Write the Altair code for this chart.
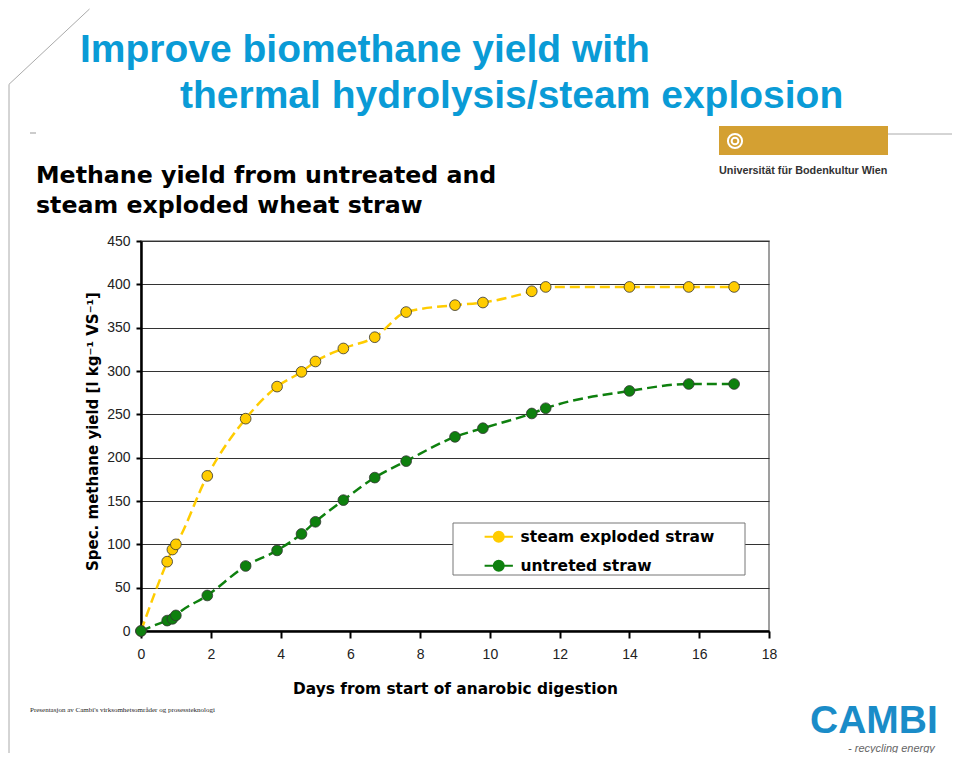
import altair as alt
import pandas as pd

# ---- data ----
days = [0, 0.75, 0.9, 1.0, 1.9, 3.0, 3.9, 4.6, 5.0, 5.8, 6.7, 7.6, 9.0, 9.8, 11.2, 11.6, 14.0, 15.7, 17.0]
steam = [0, 80, 94, 100, 179, 245, 282, 299, 311, 326, 339, 368, 376, 379, 392, 397, 397, 397, 397]
untreated = [0, 12, 14, 18, 41, 75, 93, 112, 126, 151, 177, 196, 224, 234, 251, 257, 277, 285, 285]
series_names = ["steam exploded straw", "untreted straw"]
x_ticks = list(range(0, 19, 2))
y_ticks = list(range(0, 451, 50))

rows = []
for d, s in zip(days, steam):
    rows.append({"day": d, "yield": s, "series": series_names[0]})
for d, u in zip(days, untreated):
    rows.append({"day": d, "yield": u, "series": series_names[1]})
df = pd.DataFrame(rows)

one = pd.DataFrame({"k": [0]})

W, H = 628, 390
BLUE = "#0A9BD6"

color_scale = alt.Scale(domain=series_names, range=["#FFCC00", "#0E800E"])
legend_symbol = "M-2.4,0L-0.85,0M0.85,0L2.4,0M0.85,0A0.85,0.85,0,1,1,-0.85,0A0.85,0.85,0,1,1,0.85,0Z"

base = alt.Chart(df).encode(
    x=alt.X("day:Q", scale=alt.Scale(domain=[0, 18], nice=False),
            axis=alt.Axis(values=x_ticks, grid=False, domainColor="black", domainWidth=2.5,
                          tickColor="black", tickWidth=2, tickSize=7, labelFlush=False,
                          labelFont="Liberation Sans", labelFontSize=14, labelColor="#222",
                          labelPadding=9,
                          title="Days from start of anarobic digestion",
                          titleFont="DejaVu Sans", titleFontWeight="bold", titleFontSize=15.4,
                          titleColor="black", titleX=314, titleY=62,
                          titleAlign="center", titleBaseline="alphabetic")),
    y=alt.Y("yield:Q", scale=alt.Scale(domain=[0, 450], nice=False),
            axis=alt.Axis(values=y_ticks, grid=True, gridColor="#333", gridWidth=1,
                          domainColor="black", domainWidth=2.5, labelFlush=False,
                          tickColor="black", tickWidth=2, tickSize=5,
                          labelFont="Liberation Sans", labelFontSize=14, labelColor="#222",
                          labelPadding=6,
                          title="Spec. methane yield [l kg\u207b\u00b9 VS\u207b\u00b9]",
                          titleFont="DejaVu Sans", titleFontWeight="bold", titleFontSize=15,
                          titleColor="black", titleX=-49, titleY=190, titleAngle=270,
                          titleAlign="center", titleBaseline="middle")),
    color=alt.Color("series:N", scale=color_scale,
                    legend=alt.Legend(orient="none", legendX=350, legendY=288, title=None,
                                      labelFont="DejaVu Sans", labelFontWeight="bold",
                                      labelFontSize=15.5, labelColor="black", labelLimit=400,
                                      symbolType=legend_symbol, symbolSize=139,
                                      symbolStrokeWidth=2, labelOffset=14, rowPadding=10,
                                      padding=0)),
)

lines = base.mark_line(interpolate="monotone", strokeDash=[10, 5], strokeWidth=2.5)
points = base.mark_point(filled=True, size=115, stroke="#333", strokeWidth=0.8, opacity=1)


def txt(s, x, y, size, color="black", font="Liberation Sans", weight="bold", style="normal", align="left"):
    return alt.Chart(one).mark_text(align=align, baseline="alphabetic", font=font, fontSize=size,
                                    fontWeight=weight, fontStyle=style, color=color).encode(
        x=alt.value(x), y=alt.value(y), text=alt.value(s))


def rule(x1, y1, x2, y2, color="#999", width=1):
    return alt.Chart(one).mark_rule(color=color, strokeWidth=width).encode(
        x=alt.value(x1), y=alt.value(y1), x2=alt.value(x2), y2=alt.value(y2))


legend_box = alt.Chart(one).mark_rect(fill="white", stroke="#777", strokeWidth=1).encode(
    x=alt.value(312), x2=alt.value(604), y=alt.value(282), y2=alt.value(334))

gold = alt.Chart(one).mark_rect(fill="#D4A032").encode(
    x=alt.value(578), x2=alt.value(747), y=alt.value(-115), y2=alt.value(-86))
ring1 = alt.Chart(one).mark_point(shape="circle", size=200, stroke="white", strokeWidth=2,
                                  filled=False, opacity=1).encode(x=alt.value(594), y=alt.value(-100))
ring2 = alt.Chart(one).mark_point(shape="circle", size=45, stroke="white", strokeWidth=2,
                                  filled=False, opacity=1).encode(x=alt.value(594), y=alt.value(-100))

layers = [
    rule(-51.5, -232, -132, -156.7, "#aaa", 1),
    rule(-132, -156.7, -132, 512, "#aaa", 1),
    rule(-111, -108, -105, -108, "#999", 1),
    rule(747, -107, 811, -107, "#aaa", 1),
    gold, ring1, ring2,
    txt("Universit\u00e4t f\u00fcr Bodenkultur Wien", 578, -67, 10.8, "#333"),
    txt("Improve biomethane yield with", -61, -179, 39, BLUE),
    txt("thermal hydrolysis/steam explosion", 39, -133, 39, BLUE),
    txt("Methane yield from untreated and", -105, -58, 23.7, "black", "DejaVu Sans"),
    txt("steam exploded wheat straw", -105, -28, 23.7, "black", "DejaVu Sans"),
    txt("Presentasjon av Cambi's virksomhetsomr\u00e5der og prosessteknologi", -111, 471, 7,
        "#222", "Liberation Serif", "normal"),
    txt("CAMBI", 669, 492, 39, "#1A8CC8"),
    txt("- recycling energy", 707, 511, 11, "#666", "Liberation Sans", "normal", "italic"),
    legend_box,
    lines,
    points,
]

chart = alt.layer(*layers).properties(
    width=W, height=H,
    padding={"left": 133, "top": 233, "right": 183, "bottom": 122},
    autosize=alt.AutoSizeParams(type="none"),
).configure_view(stroke="#808080", strokeWidth=1.5)

chart.save("out.html", embed_options={"renderer": "svg", "actions": False})
